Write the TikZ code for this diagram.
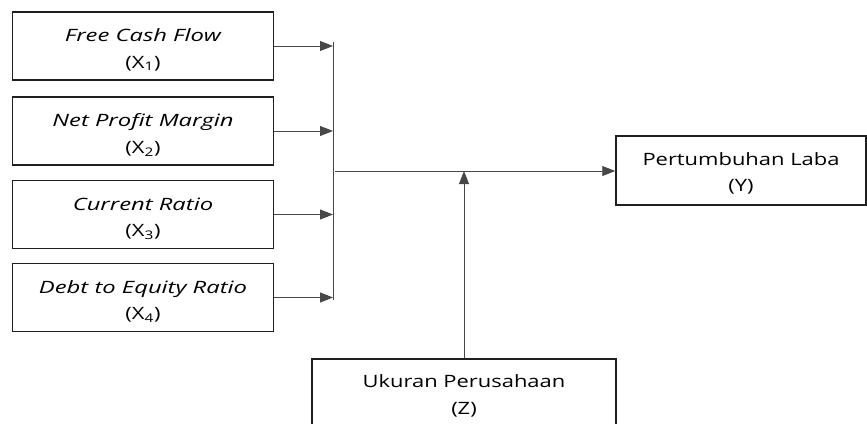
\documentclass[tikz,border=0pt]{standalone}
\usepackage{fontspec}
\setmainfont{Open Sans}
\usetikzlibrary{arrows.meta}
\newcommand{\itx}[1]{\rule{0pt}{21pt}\scalebox{1.40}[1]{\itshape #1}}
\newcommand{\upx}[1]{\scalebox{1.29}[1]{#1}}
\begin{document}
\begin{tikzpicture}[x=1pt,y=-1pt,
  box/.style={draw=black!88, line width=1.5pt, align=center, inner sep=0pt,
    font=\fontsize{17}{26.5}\selectfont},
  lbox/.style={box, minimum width=261pt, minimum height=68pt},
  conn/.style={draw=black!72, line width=0.9pt},
  arr/.style={conn, -{Triangle[length=13pt,width=10pt]}}]
\useasboundingbox (0,0) rectangle (867,423);
\begin{scope}
\clip (0,0) rectangle (867,423);
\node[lbox] (x1) at (143,46) {\itx{Free Cash Flow}\\\upx{(X\textsubscript{1})}};
\node[lbox] (x2) at (143,131) {\itx{Net Profit Margin}\\\upx{(X\textsubscript{2})}};
\node[lbox] (x3) at (143,214.5) {\itx{Current Ratio}\\\upx{(X\textsubscript{3})}};
\node[lbox] (x4) at (143,297.5) {\itx{Debt to Equity Ratio}\\\upx{(X\textsubscript{4})}};
\node[box, minimum width=250pt, minimum height=69pt] (y) at (741,170.5) {\rule{0pt}{19pt}\upx{Pertumbuhan Laba}\\\upx{(Y)}};
\node[box, minimum width=304pt, minimum height=74pt] (z) at (464,396) {\upx{Ukuran Perusahaan}\\\upx{(Z)}};
\coordinate (jt) at (333,42);
\coordinate (jb) at (333,300);
\coordinate (jm) at (335,171);
\draw[conn] (jt) -- (jb);
\draw[arr] (x1.east) -- (x1.east -| jt);
\draw[arr] (x2.east) -- (x2.east -| jt);
\draw[arr] (x3.east) -- (x3.east -| jt);
\draw[arr] (x4.east) -- (x4.east -| jt);
\draw[arr] (jm) -- (jm -| y.west);
\draw[arr] (z.north) -- (z.north |- jm);
\end{scope}
\end{tikzpicture}
\end{document}
